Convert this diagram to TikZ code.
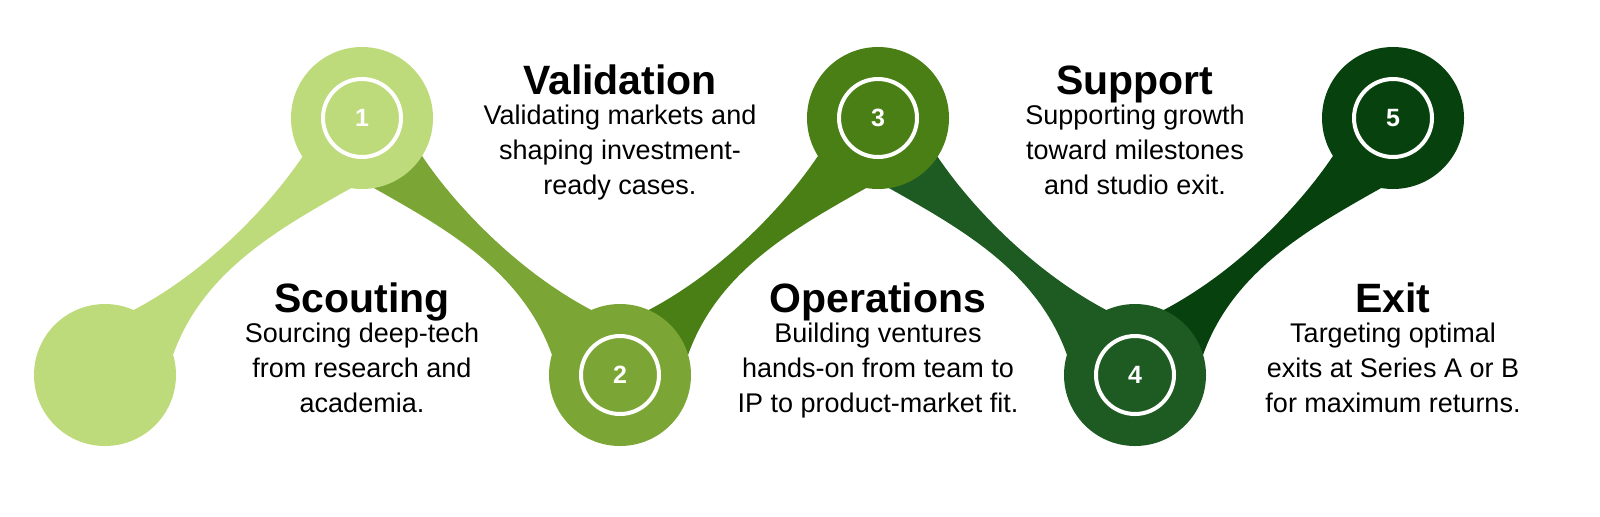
\documentclass[tikz,border=0pt]{standalone}
\usepackage{fontspec}
\setmainfont{Liberation Sans}
\definecolor{gA}{HTML}{BEDB7B}
\definecolor{gB}{HTML}{7BA534}
\definecolor{gC}{HTML}{4A7F16}
\definecolor{gD}{HTML}{1E5B22}
\definecolor{gE}{HTML}{07420E}
\newcommand\myband[3]{%
  \begin{scope}[shift={#1},xscale=#2]
    \fill[#3] (8,-55) .. controls (92,-92) and (168,-170) .. (205,-230)
      -- (262,-196) .. controls (185,-152) and (100,-110) .. (68,-20) -- cycle;
  \end{scope}}
\begin{document}
\begin{tikzpicture}[x=0.5pt,y=-0.5pt,
  disc/.style={circle,minimum size=71pt,inner sep=0pt},
  ring/.style={circle,draw=white,line width=2pt,minimum size=39pt,inner sep=0pt,
    text=white,font=\bfseries\fontsize{12.5}{14}\selectfont},
  ttl/.style={font=\bfseries\fontsize{20.5}{24}\selectfont,anchor=base},
  body/.style={font=\fontsize{13.5}{17.5}\selectfont,align=center,anchor=north,inner sep=0pt}]
\useasboundingbox (0,0) rectangle (1600,516);
\myband{(105,375)}{1}{gA}
\myband{(620,375)}{-1}{gB}
\myband{(620,375)}{1}{gC}
\myband{(1135,375)}{-1}{gD}
\myband{(1135,375)}{1}{gE}
\node[disc,fill=gA] (c0) at (105,375) {};
\node[disc,fill=gA] (c1) at (362,118) {};
\node[disc,fill=gB] (c2) at (620,375) {};
\node[disc,fill=gC] (c3) at (878,118) {};
\node[disc,fill=gD] (c4) at (1135,375) {};
\node[disc,fill=gE] (c5) at (1393,118) {};
\node[ring] (r1) at (c1) {1};
\node[ring] (r2) at (c2) {2};
\node[ring] (r3) at (c3) {3};
\node[ring] (r4) at (c4) {4};
\node[ring] (r5) at (c5) {5};
\node[ttl] (t1) at (362,312) {Scouting};
\node[body] (b1) at (362,323) {Sourcing deep-tech\\from research and\\academia.};
\node[ttl] (t2) at (620,94) {Validation};
\node[body] (b2) at (620,105) {Validating markets and\\shaping investment-\\ready cases.};
\node[ttl] (t3) at (878,312) {Operations};
\node[body] (b3) at (878,323) {Building ventures\\hands-on from team to\\IP to product-market fit.};
\node[ttl] (t4) at (1135,94) {Support};
\node[body] (b4) at (1135,105) {Supporting growth\\toward milestones\\and studio exit.};
\node[ttl] (t5) at (1393,312) {Exit};
\node[body] (b5) at (1393,323) {Targeting optimal\\exits at Series A or B\\for maximum returns.};
\end{tikzpicture}
\end{document}
